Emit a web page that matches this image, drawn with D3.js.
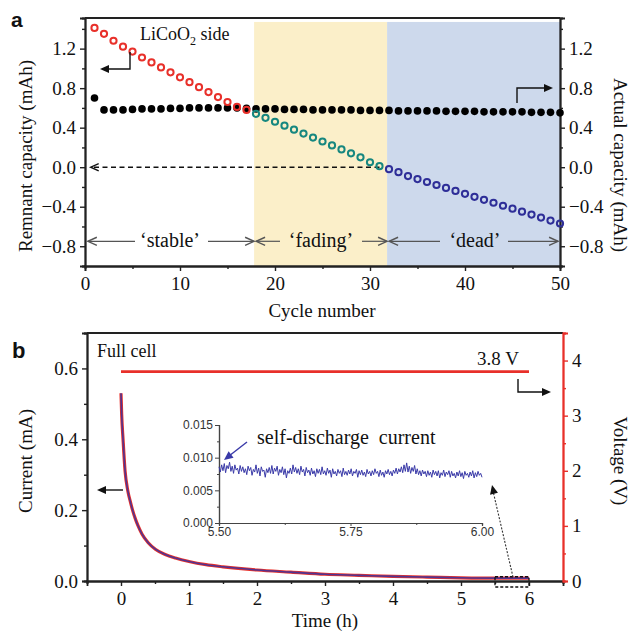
<!DOCTYPE html>
<html><head><meta charset="utf-8">
<script src="https://cdn.jsdelivr.net/npm/d3@7"></script>
<style>body{margin:0;background:#fff}svg{display:block}</style>
</head><body>
<svg id="c" width="631" height="631"></svg>
<script>
// ---------- Panel a data ----------
const cyclesLiCoO2 = [1,2,3,4,5,6,7,8,9,10,11,12,13,14,15,16,17];
const remnantLiCoO2 = [1.41,1.35,1.28,1.22,1.17,1.11,1.06,1.01,0.96,0.91,0.86,0.81,0.76,0.71,0.66,0.61,0.58];
const cyclesFading = [18,19,20,21,22,23,24,25,26,27,28,29,30,31];
const remnantFading = [0.54,0.50,0.46,0.42,0.38,0.34,0.30,0.26,0.22,0.18,0.14,0.10,0.05,0.01];
const cyclesDead = [32,33,34,35,36,37,38,39,40,41,42,43,44,45,46,47,48,49,50];
const remnantDead = [-0.02,-0.05,-0.09,-0.12,-0.15,-0.18,-0.21,-0.24,-0.27,-0.30,-0.33,-0.36,-0.39,-0.42,-0.45,-0.48,-0.51,-0.54,-0.57];
const cyclesAll = [1,2,3,4,5,6,7,8,9,10,11,12,13,14,15,16,17,18,19,20,21,22,23,24,25,26,27,28,29,30,31,32,33,34,35,36,37,38,39,40,41,42,43,44,45,46,47,48,49,50];
const actualCapacity = [0.70,0.58,0.58,0.58,0.585,0.59,0.59,0.59,0.595,0.595,
  0.60,0.60,0.60,0.60,0.60,0.60,0.595,0.59,0.59,0.59,
  0.585,0.585,0.585,0.58,0.58,0.58,0.58,0.58,0.575,0.575,
  0.575,0.575,0.57,0.57,0.57,0.57,0.57,0.565,0.565,0.565,
  0.565,0.56,0.56,0.56,0.56,0.56,0.555,0.555,0.555,0.55];
const stageBounds = [0.3,17.8,31.8,49.8];
const stageNames = ["\u2018stable\u2019","\u2018fading\u2019","\u2018dead\u2019"];
const capTicks = [-0.8,-0.4,0.0,0.4,0.8,1.2];
const cycleTicks = [0,10,20,30,40,50];

// ---------- Panel b data ----------
const timeH = [0,0.01,0.03,0.06,0.1,0.14,0.17,0.21,0.25,0.31,0.4,0.51,0.65,0.8,1.0,1.25,1.5,2.0,2.5,3.0,3.5,4.0,4.5,5.0,5.5,6.0];
const currentmA = [0.53,0.47,0.40,0.31,0.255,0.222,0.20,0.176,0.156,0.132,0.108,0.089,0.075,0.065,0.055,0.046,0.040,0.031,0.025,0.019,0.016,0.013,0.011,0.009,0.008,0.008];
const voltageTime = [0,6.0];
const voltageV = [3.8,3.8];
const insetCurrent = [
  8.6,7.8,8.9,8.0,9.1,7.7,8.8,8.3,9.3,7.9,8.7,7.6,8.9,8.1,8.4,7.5,8.8,7.9,8.6,7.7,
  8.3,7.4,8.7,8.0,8.5,7.3,8.2,7.8,8.9,7.6,8.4,7.2,8.6,7.9,8.1,7.0,8.3,7.7,8.5,7.6,
  8.8,7.5,8.4,7.9,8.7,7.3,8.2,7.7,8.6,7.4,8.3,6.9,8.0,7.6,8.4,7.5,8.9,7.8,8.5,7.6,
  8.3,7.4,8.7,7.8,8.2,7.2,8.5,7.7,8.1,7.3,8.4,7.5,8.0,7.1,8.3,7.6,8.2,7.4,8.6,7.5,
  8.0,7.3,8.4,7.6,8.1,7.0,8.3,7.5,7.9,7.2,8.2,7.6,8.0,7.1,8.4,7.4,7.9,7.3,8.1,7.5,
  8.3,7.2,7.9,7.6,8.2,7.0,8.0,7.4,8.1,7.3,7.8,7.1,8.2,7.5,7.9,7.2,8.0,7.4,8.3,7.6,
  7.9,7.1,8.1,7.3,7.8,7.0,8.0,7.5,8.2,7.4,7.9,7.2,8.1,7.6,8.4,7.5,8.3,7.8,8.6,7.7,
  8.9,7.9,9.2,7.8,8.7,7.6,8.5,7.9,8.8,7.5,8.3,7.4,8.0,7.2,8.1,7.5,7.9,7.1,8.0,7.3,
  7.8,7.0,8.1,7.4,7.9,7.2,8.0,6.9,7.7,7.3,8.1,7.1,7.8,7.4,8.0,7.0,7.9,7.2,7.6,6.9,
  7.8,7.2,8.0,7.1,7.7,6.8,7.9,7.3,7.6,7.0,7.8,7.2,8.0,6.9,7.7,7.1,7.9,7.3,7.6,7.0].map(v=>v/1000);
const insetStart = 5.5, insetEnd = 6.0;
const currentTicks = [0,0.2,0.4,0.6];
const voltTicks = [0,1,2,3,4];
const timeTicks = [0,1,2,3,4,5,6];
const insetYTicks = [0,0.005,0.010,0.015];
const insetXTicks = [5.50,5.75,6.00];

const svg = d3.select("#c");
const SERIF = "'Liberation Serif','Times New Roman',serif";
const SANS = "'Liberation Sans',Arial,sans-serif";
const RED = "#e8302a", TEAL = "#16877f", NAVY = "#2e2e98", BLUE="#3535a5";

svg.append("rect").attr("width",631).attr("height",631).attr("fill","#fff");

function head(g, x, y, dir, color, open, size){
  size = size||7;
  const a = dir;
  const p1 = [x - size*Math.cos(a) + size*0.45*Math.sin(a), y - size*Math.sin(a) - size*0.45*Math.cos(a)];
  const p2 = [x - size*Math.cos(a) - size*0.45*Math.sin(a), y - size*Math.sin(a) + size*0.45*Math.cos(a)];
  if(open){
    g.append("path").attr("d",`M${p1}L${x},${y}L${p2}`).attr("fill","none").attr("stroke",color).attr("stroke-width",1.4);
  } else {
    g.append("path").attr("d",`M${p1}L${x},${y}L${p2}Z`).attr("fill",color);
  }
}

// ================= Panel a =================
const x1 = d3.scaleLinear().domain([0,50]).range([85,560]);
const y1 = d3.scaleLinear().domain([-1.0,1.51]).range([266,18]);
const A = svg.append("g");

A.append("rect").attr("x",x1(stageBounds[1])).attr("y",y1(1.47)).attr("width",x1(stageBounds[2])-x1(stageBounds[1]))
  .attr("height",y1(-1.0)-y1(1.47)).attr("fill","#fbefc9");
A.append("rect").attr("x",x1(stageBounds[2])).attr("y",y1(1.47)).attr("width",x1(50)-x1(stageBounds[2]))
  .attr("height",y1(-1.0)-y1(1.47)).attr("fill","#cdd9ec");

const axL = A.append("g").attr("transform",`translate(${x1(0)},0)`)
  .call(d3.axisLeft(y1).tickValues(capTicks).tickFormat(d3.format(".1f")).tickSize(5).tickPadding(4));
const axLm = A.append("g").attr("transform",`translate(${x1(0)},0)`)
  .call(d3.axisLeft(y1).tickValues([-1.0,-0.6,-0.2,0.2,0.6,1.0,1.4]).tickFormat("").tickSize(3));
const axR = A.append("g").attr("transform",`translate(${x1(50)},0)`)
  .call(d3.axisRight(y1).tickValues(capTicks).tickFormat(d3.format(".1f")).tickSize(5).tickPadding(4));
const axRm = A.append("g").attr("transform",`translate(${x1(50)},0)`)
  .call(d3.axisRight(y1).tickValues([-1.0,-0.6,-0.2,0.2,0.6,1.0,1.4]).tickFormat("").tickSize(3));
const axB = A.append("g").attr("transform",`translate(0,${y1(-1.0)})`)
  .call(d3.axisBottom(x1).tickValues(cycleTicks).tickFormat(d3.format("d")).tickSize(5).tickPadding(6));
const axBm = A.append("g").attr("transform",`translate(0,${y1(-1.0)})`)
  .call(d3.axisBottom(x1).tickValues([5,15,25,35,45]).tickFormat("").tickSize(3));
A.append("line").attr("x1",x1(0)).attr("x2",x1(50)).attr("y1",y1(1.51)).attr("y2",y1(1.51)).attr("stroke","#222").attr("stroke-width",1.8);
[axL,axLm,axR,axRm,axB,axBm].forEach(g=>{
  g.select(".domain").attr("stroke","#222").attr("stroke-width",1.8);
  g.selectAll(".tick line").attr("stroke","#222").attr("stroke-width",1.4);
  g.selectAll("text").attr("font-family",SERIF).attr("font-size",19).attr("fill","#111");
});

A.append("line").attr("x1",x1(31)).attr("x2",x1(0.7)).attr("y1",y1(0)).attr("y2",y1(0))
  .attr("stroke","#111").attr("stroke-width",1.4).attr("stroke-dasharray","5,3.5");
head(A, x1(0.6), y1(0), Math.PI, "#111", true, 8);

A.append("g").selectAll("circle").data(cyclesAll).join("circle")
  .attr("cx",d=>x1(d)).attr("cy",(d,i)=>y1(actualCapacity[i])).attr("r",3.8).attr("fill","#000");

function openCircles(cx, vals, color){
  A.append("g").selectAll("circle").data(cx).join("circle")
   .attr("cx",d=>x1(d)).attr("cy",(d,i)=>y1(vals[i])).attr("r",3.1)
   .attr("fill","none").attr("stroke",color).attr("stroke-width",2);
}
openCircles(cyclesLiCoO2, remnantLiCoO2, RED);
openCircles(cyclesFading, remnantFading, TEAL);
openCircles(cyclesDead, remnantDead, NAVY);

const lab = A.append("text").attr("x",140).attr("y",40).attr("font-family",SERIF).attr("font-size",18).attr("fill","#111");
lab.append("tspan").text("LiCoO");
lab.append("tspan").attr("dy",5).attr("font-size",12).text("2");
lab.append("tspan").attr("dy",-5).text(" side");
A.append("path").attr("d","M130,52V69H104").attr("fill","none").attr("stroke","#111").attr("stroke-width",1.4);
head(A,100,69,Math.PI,"#111",false,9);
A.append("path").attr("d","M517,103V88H547").attr("fill","none").attr("stroke","#111").attr("stroke-width",1.4);
head(A,553,88,0,"#111",false,9);

const ys = y1(-0.75);
const stageText = [
  {cx:170, l:[x1(stageBounds[0]),135], r:[208,x1(stageBounds[1])]},
  {cx:321, l:[x1(stageBounds[1])+2,280], r:[362,x1(stageBounds[2])]},
  {cx:475, l:[x1(stageBounds[2])+2,440], r:[508,x1(stageBounds[3])]}
];
stageText.forEach((s,i)=>{
  A.append("text").attr("x",s.cx).attr("y",ys+6).attr("text-anchor","middle").attr("font-family",SERIF)
    .attr("font-size",20).attr("fill","#111").text(stageNames[i]);
  A.append("line").attr("x1",s.l[0]).attr("x2",s.l[1]).attr("y1",ys).attr("y2",ys).attr("stroke","#555").attr("stroke-width",1.2);
  head(A,s.l[0],ys,Math.PI,"#555",true,9);
  A.append("line").attr("x1",s.r[0]).attr("x2",s.r[1]).attr("y1",ys).attr("y2",ys).attr("stroke","#555").attr("stroke-width",1.2);
  head(A,s.r[1],ys,0,"#555",true,9);
});

A.append("text").attr("x",322).attr("y",317).attr("text-anchor","middle").attr("font-family",SERIF).attr("font-size",19).attr("fill","#111").text("Cycle number");
A.append("text").attr("transform","translate(32,156) rotate(-90)").attr("text-anchor","middle").attr("font-family",SERIF).attr("font-size",19).attr("fill","#111").text("Remnant capacity (mAh)");
A.append("text").attr("transform","translate(614,165) rotate(90)").attr("text-anchor","middle").attr("font-family",SERIF).attr("font-size",19).attr("fill","#111").text("Actual capacity (mAh)");
A.append("text").attr("x",11).attr("y",27).attr("font-family",SANS).attr("font-weight","bold").attr("font-size",21).attr("fill","#111").text("a");

// ================= Panel b =================
const x2 = d3.scaleLinear().domain([-0.5,6.5]).range([87,563]);
const y2 = d3.scaleLinear().domain([0,0.7]).range([581,333]);
const yV = d3.scaleLinear().domain([0,4.5]).range([581,333]);
const B = svg.append("g");

const bL = B.append("g").attr("transform",`translate(${x2(-0.5)},0)`)
  .call(d3.axisLeft(y2).tickValues(currentTicks).tickFormat(d3.format(".1f")).tickSize(5).tickPadding(4));
const bLm = B.append("g").attr("transform",`translate(${x2(-0.5)},0)`)
  .call(d3.axisLeft(y2).tickValues([0.1,0.3,0.5,0.7]).tickFormat("").tickSize(3));
const bB = B.append("g").attr("transform",`translate(0,${y2(0)})`)
  .call(d3.axisBottom(x2).tickValues(timeTicks).tickFormat(d3.format("d")).tickSize(5).tickPadding(6));
const bBm = B.append("g").attr("transform",`translate(0,${y2(0)})`)
  .call(d3.axisBottom(x2).tickValues([-0.5,0.5,1.5,2.5,3.5,4.5,5.5,6.5]).tickFormat("").tickSize(3));
B.append("line").attr("x1",x2(-0.5)).attr("x2",x2(6.5)).attr("y1",y2(0.7)).attr("y2",y2(0.7)).attr("stroke","#222").attr("stroke-width",1.8);
[bL,bLm,bB,bBm].forEach(g=>{
  g.select(".domain").attr("stroke","#222").attr("stroke-width",1.8);
  g.selectAll(".tick line").attr("stroke","#222").attr("stroke-width",1.4);
  g.selectAll("text").attr("font-family",SERIF).attr("font-size",19).attr("fill","#111");
});
const bR = B.append("g").attr("transform",`translate(${x2(6.5)},0)`)
  .call(d3.axisRight(yV).tickValues(voltTicks).tickFormat(d3.format("d")).tickSize(5).tickPadding(4));
const bRm = B.append("g").attr("transform",`translate(${x2(6.5)},0)`)
  .call(d3.axisRight(yV).tickValues([0.5,1.5,2.5,3.5,4.5]).tickFormat("").tickSize(3));
[bR,bRm].forEach(g=>{
  g.select(".domain").attr("stroke",RED).attr("stroke-width",1.8);
  g.selectAll(".tick line").attr("stroke",RED).attr("stroke-width",1.4);
  g.selectAll("text").attr("font-family",SERIF).attr("font-size",19).attr("fill","#111");
});

B.append("path").datum(voltageTime.map((t,i)=>[t,voltageV[i]]))
  .attr("d",d3.line().x(d=>x2(d[0])).y(d=>yV(d[1]))).attr("stroke",RED).attr("stroke-width",2.6).attr("fill","none");

const curLine = d3.line().x(d=>x2(d[0])).y(d=>y2(d[1])).curve(d3.curveMonotoneX);
const curData = timeH.map((t,i)=>[t,currentmA[i]]);
B.append("path").datum(curData).attr("d",curLine).attr("stroke",RED).attr("stroke-width",3.2).attr("fill","none");
B.append("path").datum(curData).attr("d",curLine).attr("stroke",BLUE).attr("stroke-width",1.6).attr("stroke-opacity",0.85).attr("fill","none");

B.append("rect").attr("x",x2(5.5)).attr("y",y2(0.012)).attr("width",x2(6.0)-x2(5.5)).attr("height",y2(-0.017)-y2(0.012))
  .attr("fill","none").attr("stroke","#111").attr("stroke-width",1.3).attr("stroke-dasharray","3,2");
B.append("line").attr("x1",513).attr("y1",577).attr("x2",493).attr("y2",491).attr("stroke","#333").attr("stroke-width",1.1).attr("stroke-dasharray","2,1.5");
head(B,492,485,Math.atan2(485-577,492-513),"#111",false,9);

B.append("text").attr("x",97).attr("y",357).attr("font-family",SERIF).attr("font-size",18).attr("fill","#111").text("Full cell");
B.append("text").attr("x",477).attr("y",365).attr("font-family",SERIF).attr("font-size",19).attr("fill","#111").text("3.8 V");
B.append("path").attr("d","M518,379V392H545").attr("fill","none").attr("stroke","#111").attr("stroke-width",1.4);
head(B,551,392,0,"#111",false,9);
B.append("line").attr("x1",123).attr("x2",103).attr("y1",490).attr("y2",490).attr("stroke","#111").attr("stroke-width",1.4);
head(B,97,490,Math.PI,"#111",false,9);

// inset
const x3 = d3.scaleLinear().domain([5.5,6.0]).range([219,482]);
const y3 = d3.scaleLinear().domain([0,0.015]).range([523,425]);
const I = B.append("g");
const iL = I.append("g").attr("transform",`translate(${x3(5.5)},0)`)
  .call(d3.axisLeft(y3).tickValues(insetYTicks).tickFormat(d3.format(".3f")).tickSize(4).tickPadding(2));
const iLm = I.append("g").attr("transform",`translate(${x3(5.5)},0)`)
  .call(d3.axisLeft(y3).tickValues([0.0025,0.0075,0.0125]).tickFormat("").tickSize(2));
const iB = I.append("g").attr("transform",`translate(0,${y3(0)})`)
  .call(d3.axisBottom(x3).tickValues(insetXTicks).tickFormat(d3.format(".2f")).tickSize(3).tickPadding(1));
const iBm = I.append("g").attr("transform",`translate(0,${y3(0)})`)
  .call(d3.axisBottom(x3).tickValues([5.625,5.875]).tickFormat("").tickSize(2));
[iL,iLm,iB,iBm].forEach(g=>{
  g.select(".domain").attr("stroke","#444").attr("stroke-width",1.2);
  g.selectAll(".tick line").attr("stroke","#444");
  g.selectAll("text").attr("font-family",SANS).attr("font-size",12).attr("fill","#333");
});
const nI = insetCurrent.length;
I.append("path").datum(insetCurrent.map((v,i)=>[insetStart+(insetEnd-insetStart)*i/(nI-1),v]))
  .attr("d",d3.line().x(d=>x3(d[0])).y(d=>y3(d[1]))).attr("stroke","#3a3aa8").attr("stroke-width",1).attr("fill","none");
I.append("text").attr("x",257).attr("y",444).attr("font-family",SERIF).attr("font-size",20).attr("fill","#111").attr("xml:space","preserve").text("self-discharge  current");
I.append("line").attr("x1",247).attr("y1",442).attr("x2",229).attr("y2",456).attr("stroke","#3a3aa8").attr("stroke-width",1.4);
head(I,224,460,Math.atan2(460-442,224-247),"#3a3aa8",false,9);

B.append("text").attr("x",325).attr("y",627).attr("text-anchor","middle").attr("font-family",SERIF).attr("font-size",19).attr("fill","#111").text("Time (h)");
B.append("text").attr("transform","translate(32,461) rotate(-90)").attr("text-anchor","middle").attr("font-family",SERIF).attr("font-size",19).attr("fill","#111").text("Current (mA)");
B.append("text").attr("transform","translate(614,461) rotate(90)").attr("text-anchor","middle").attr("font-family",SERIF).attr("font-size",19).attr("fill","#111").text("Voltage (V)");
B.append("text").attr("x",12).attr("y",358).attr("font-family",SANS).attr("font-weight","bold").attr("font-size",22).attr("fill","#111").text("b");
</script>
</body></html>
